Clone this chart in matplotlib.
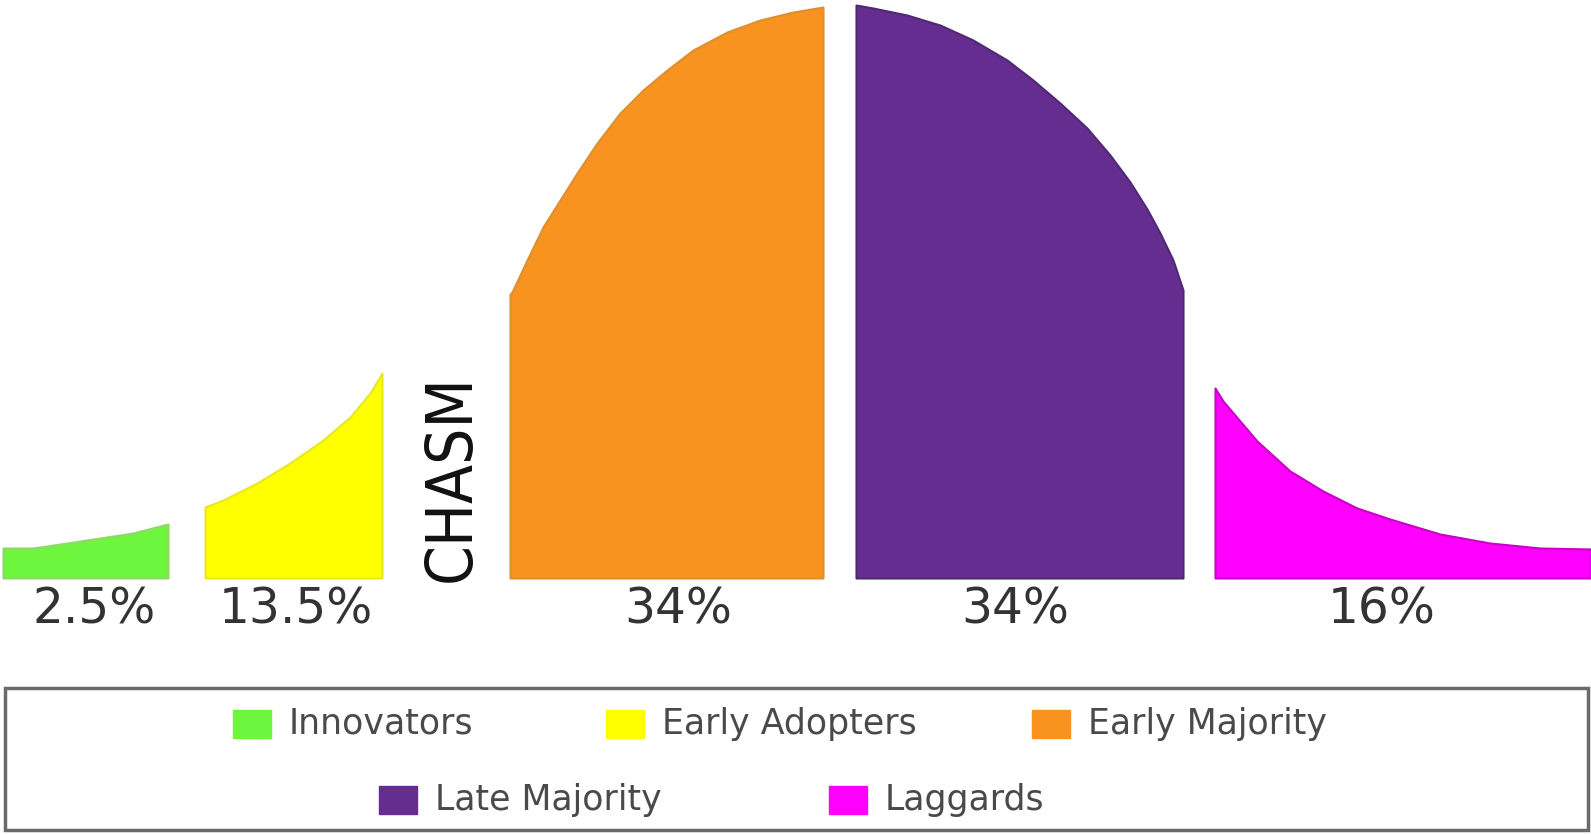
import matplotlib
matplotlib.use('Agg')
import matplotlib.pyplot as plt
from matplotlib.patches import Rectangle
from matplotlib import font_manager

# categories, shares and colours
categories = ['Innovators', 'Early Adopters', 'Early Majority', 'Late Majority', 'Laggards']
shares = ['2.5%', '13.5%', '34%', '34%', '16%']
colors = ['#6EF53E', '#FFFF00', '#F7931E', '#652D90', '#FF00FF']
edges = ['#8FD96A', '#E8E820', '#DE9030', '#4E2A73', '#C800C8']

# curve profile of each segment (x position, height above the baseline)
green_x = [3, 33, 67, 100, 133, 160, 168]
green_h = [30, 30, 35, 40, 45, 52, 54]
yellow_x = [205, 223, 257, 290, 323, 350, 370, 382]
yellow_h = [71, 78, 95, 115, 138, 161, 185, 205]
orange_x = [510, 512, 527, 543, 560, 577, 597, 620, 643, 667, 693, 727, 760, 793, 823]
orange_h = [284, 286, 318, 351, 378, 405, 435, 465, 488, 508, 528, 546, 558, 566, 571]
purple_x = [856, 873, 907, 940, 973, 1007, 1033, 1060, 1087, 1110, 1130, 1147, 1160, 1173, 1183]
purple_h = [573, 570, 563, 553, 538, 518, 498, 475, 450, 423, 396, 369, 345, 318, 288]
magenta_x = [1215, 1223, 1257, 1290, 1323, 1357, 1390, 1440, 1490, 1540, 1591]
magenta_h = [190, 177, 137, 107, 87, 70, 59, 44, 35, 30, 29]

profiles = [(green_x, green_h), (yellow_x, yellow_h), (orange_x, orange_h),
            (purple_x, purple_h), (magenta_x, magenta_h)]

W, H = 1591, 834
BASE = 578  # pixel row of the baseline
label_x = [94, 296, 678, 1015, 1382]
legend_pos = [(233, 724), (606, 724), (1032, 724), (379, 800), (829, 800)]

fig = plt.figure(figsize=(W / 100, H / 100), dpi=100)
ax = fig.add_axes([0, 0, 1, 1])
ax.set_xlim(0, W)
ax.set_ylim(BASE - H, BASE)
ax.axis('off')

def row(y):
  # pixel row -> height above baseline
  return BASE - y

for (xs, hs), c, e, pct, lx in zip(profiles, colors, edges, shares, label_x):
  ax.fill_between(xs, 0, hs, color=c, edgecolor=e, linewidth=1.5)
  ax.text(lx, row(610), pct, ha='center', va='center', fontsize=35,
          color='#333333', family='DejaVu Sans')

# CHASM is set in a narrow face; use one if there is any, then fit it to its length
narrow = [f.fname for f in font_manager.fontManager.ttflist
          if ('Narrow' in f.fname or 'Condensed' in f.fname) and 'Bold' not in f.fname
          and 'Italic' not in f.fname and 'Oblique' not in f.fname]
fp = font_manager.FontProperties(fname=narrow[0]) if narrow else font_manager.FontProperties(family='DejaVu Sans')
chasm = ax.text(452, row(478), 'CHASM', rotation=90, ha='center', va='center', fontsize=50,
                color='#111111', fontproperties=fp)
chasm.set_fontsize(50)
fig.canvas.draw()
ext = chasm.get_window_extent()
chasm.set_fontsize(50 * 208 / ext.height)

# legend box, laid out by hand as in the picture
ax.add_patch(Rectangle((5, row(830)), 1583, 142, fill=False, edgecolor='#6a6a6a', linewidth=2.5))
for (lx, ly), c, name in zip(legend_pos, colors, categories):
  ax.add_patch(Rectangle((lx, row(ly + 14)), 38, 28, color=c))
  ax.text(lx + 56, row(ly), name, ha='left', va='center', fontsize=25,
          color='#4a4a4a', family='DejaVu Sans')

fig.savefig('out.png', dpi=100, facecolor='white')
